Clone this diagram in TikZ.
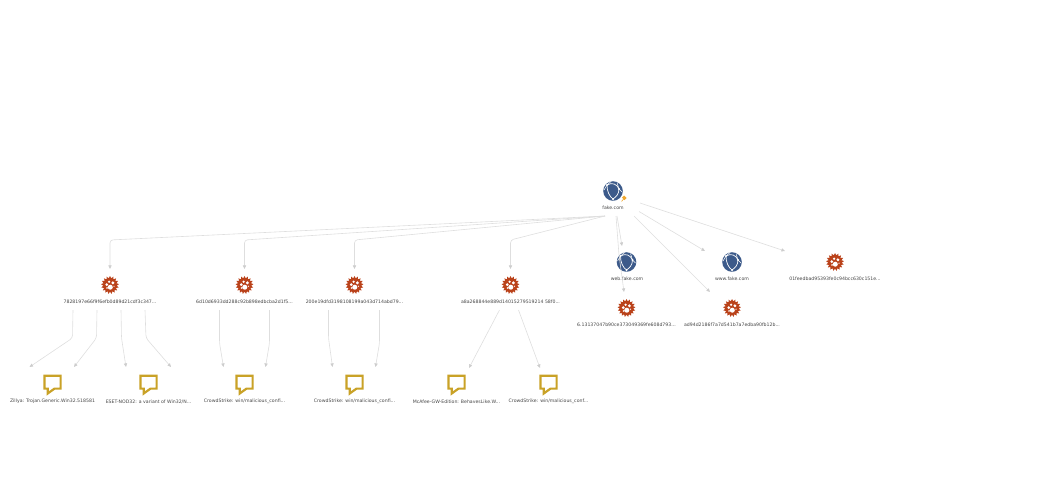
\documentclass[tikz,border=0pt]{standalone}
\usepackage{fontspec}
\setmainfont{DejaVu Sans}
\usetikzlibrary{arrows.meta,shapes.geometric}
\definecolor{vtblue}{RGB}{60,90,138}
\definecolor{vtrust}{RGB}{186,66,26}
\definecolor{vtgold}{RGB}{201,162,39}
\definecolor{vtpin}{RGB}{240,168,48}
\definecolor{vtlink}{RGB}{222,222,222}
\definecolor{vttip}{RGB}{205,205,205}
\definecolor{vttext}{RGB}{70,70,70}
\tikzset{
  iconspot/.style={circle,inner sep=0pt,minimum size=20pt},
  lbl/.style={font=\fontsize{4.65}{5}\selectfont,text=vttext,inner sep=0pt},
  link/.style={draw=vtlink,line width=0.6pt,rounded corners=3pt,
    -{Triangle[length=3.6pt,width=3.2pt,color=vttip]}},
}
\newcommand{\globeicon}[3]{%
  \node[iconspot] (#1) at (#2,#3) {};
  \begin{scope}[shift={(#2,#3)}]
    \fill[vtblue] (0,0) circle[radius=9.8pt];
    \draw[white,line width=0.7pt] (-6,-6) .. controls (-1,-9) and (4,-7) .. (6,-2)
      .. controls (6,3) and (3,6) .. (0,8) .. controls (-4,5) and (-6,0) .. (-6,-6);
    \draw[white,line width=0.5pt] (-6,-6) -- (-9,-1) (6,-2) -- (9,1) (0,8) -- (0,9.5)
      (-6,-6) -- (-2,-9.5) (6,-2) -- (4,-8.5);
    \foreach \px/\py in {-6/-6,6/-2,0/8}{\fill[white] (\px,\py) circle[radius=1.1pt];}
  \end{scope}}
\newcommand{\malicon}[3]{%
  \node[iconspot] (#1) at (#2,#3) {};
  \begin{scope}[shift={(#2,#3)}]
    \node[star,star points=17,star point height=2.3pt,minimum size=18pt,inner sep=0pt,
      fill=vtrust] at (0,0) {};
    \fill[white] (0.3,2.2) circle[radius=2.5pt] (-3.2,-0.4) circle[radius=1.5pt]
      (-0.9,-3.3) circle[radius=1.3pt] (2.9,-2.2) circle[radius=1.6pt]
      (-3,3) circle[radius=0.8pt] (4,1.2) circle[radius=0.7pt];
  \end{scope}}
\newcommand{\cmticon}[3]{%
  \node[iconspot] (#1) at (#2,#3) {};
  \begin{scope}[shift={(#2,#3)}]
    \draw[vtgold,line width=2.2pt,miter limit=6] (-8.1,-9.2) -- (8.1,-9.2) -- (8.1,3.6)
      -- (2,3.6) -- (-4.8,8.5) -- (-4.8,3.6) -- (-8.1,3.6) -- cycle;
  \end{scope}}
\begin{document}
\begin{tikzpicture}[x=1pt,y=-1pt]
  \useasboundingbox (0,0) rectangle (1063,480);
  % --- icons ---
  \globeicon{fake}{613}{191}
  \globeicon{web}{626.5}{262}
  \globeicon{www}{732}{262}
  \foreach \nm/\cx/\cy in {mal1/110/285, mal2/244.5/285, mal3/354.5/285, mal4/510.5/285,
        mal5/626.5/308, mal6/732/308, mal7/835/262}{%
    \malicon{\nm}{\cx}{\cy}}
  \foreach \nm/\cx in {cmt1/52.5, cmt2/148.5, cmt3/244.5, cmt4/354.5, cmt5/456.5, cmt6/548.5}{%
    \cmticon{\nm}{\cx}{385}}
  % pin on the root
  \fill[vtpin,rotate around={45:(624.5,198)}] (623,196) rectangle (626,199.5);
  \draw[vtpin,line width=0.6pt] (624,198.5) -- (621.5,201.5);
  % --- labels ---
  \foreach \nm/\cx/\cy/\lab in {lblfake/613/207.6/{fake.com}, lblweb/627/278.6/{web.fake.com},
        lblwww/732/278.6/{www.fake.com},
        lblmal1/110/301.6/{7828197e66f9f6efb0d89d21cdf3c347...},
        lblmal2/244.5/301.6/{6d10d6933dd288c92b898edbcba2d1f5...},
        lblmal3/354.5/301.6/{200e19dfd3198108199a043d714abd79...},
        lblmal4/510.5/301.6/{a8a268844e889d14015279519214 58f0...},
        lblmal5/626.5/324.6/{6.13137047b90ce373049369fe608d793...},
        lblmal6/732/324.6/{ad94d2186f7a7d541b7a7edba90fb12b...},
        lblmal7/835/278.6/{01feedbad95393fe0c94bcc630c151e...},
        lblcmt1/52.5/401.6/{Zillya: Trojan.Generic.Win32.518581},
        lblcmt2/148.5/401.6/{ESET-NOD32: a variant of Win32/N...},
        lblcmt3/244.5/401.6/{CrowdStrike: win/malicious\_confi...},
        lblcmt4/354.5/401.6/{CrowdStrike: win/malicious\_confi...},
        lblcmt5/456.5/401.6/{McAfee-GW-Edition: BehavesLike.W...},
        lblcmt6/548.5/401.6/{CrowdStrike: win/malicious\_conf...}}{%
    \node[lbl] (\nm) at (\cx,\cy) {\lab};}
  % --- root to samples, long bent links ---
  \foreach \dst in {mal1,mal2,mal3,mal4}{%
    \draw[link] ([shift={(-8,8.4)}]lblfake.center) -- ([shift={(0,-45)}]\dst.center)
      -- ([shift={(0,-16)}]\dst.center);}
  % --- root to the right side, straight ---
  \draw[link] ([shift={(4,8.4)}]lblfake.center) -- ([shift={(-4.5,-16)}]web.center);
  \draw[link] ([shift={(3,8.4)}]lblfake.center) -- ([shift={(-7.5,-53)}]mal5.center)
      -- ([shift={(-2.5,-16)}]mal5.center);
  \draw[link] ([shift={(21,8.4)}]lblfake.center) -- ([shift={(-22,-16)}]mal6.center);
  \draw[link] ([shift={(26,3.9)}]lblfake.center) -- ([shift={(-27,-11)}]www.center);
  \draw[link] ([shift={(27,-4.6)}]lblfake.center) -- ([shift={(-50,-11)}]mal7.center);
  % --- samples to comments, src/start/bend/target/end ---
  \foreach \src/\sx/\bx/\by/\dst/\ex in {lblmal1/-37/20/-47/cmt1/-23,
        lblmal1/-13/44/-47/cmt1/21.5,
        lblmal1/11/-27/-47/cmt2/-22.5,
        lblmal1/35/-2.5/-47/cmt2/22.5,
        lblmal2/-25/-25/-42/cmt3/-21,
        lblmal2/25/25/-42/cmt3/21,
        lblmal3/-26/-26/-47/cmt4/-22,
        lblmal3/25/25/-42/cmt4/21}{%
    \draw[link] ([shift={(\sx,8.4)}]\src.center) -- ([shift={(\bx,\by)}]\dst.center)
      -- ([shift={(\ex,-18)}]\dst.center);}
  \draw[link] ([shift={(-11,8.4)}]lblmal4.center) -- ([shift={(12.5,-17)}]cmt5.center);
  \draw[link] ([shift={(8,8.4)}]lblmal4.center) -- ([shift={(-8.5,-17)}]cmt6.center);
\end{tikzpicture}
\end{document}
